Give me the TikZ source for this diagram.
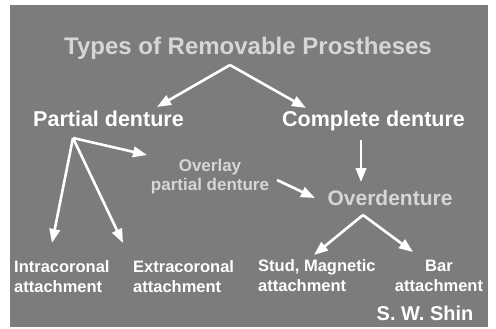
\documentclass[tikz,border=0pt]{standalone}
\usepackage{fontspec}
\setmainfont{Liberation Sans}
\usetikzlibrary{arrows.meta,calc}
\definecolor{slidebg}{HTML}{7C7C7C}
\definecolor{dimtxt}{HTML}{D6D6D6}
\newcommand{\fs}[2]{\bfseries\fontsize{#1}{#2}\selectfont}
\tikzset{
  lbl/.style={inner sep=0pt,text=white},
  dimlbl/.style={lbl,text=dimtxt},
  arr/.style={draw=white,line width=2.6pt,-{Triangle[length=14pt,width=10.5pt]}}
}

\begin{document}
\begin{tikzpicture}[x=1pt,y=-1pt]
  \useasboundingbox (0,0) rectangle (496,329);
  \fill[slidebg] (10,5) rectangle (488,327);
  % labels
  \node[dimlbl,anchor=base,font=\fs{24}{28}] (title) at (248,55) {Types of Removable Prostheses};
  \node[lbl,anchor=base,font=\fs{21.5}{24}] (partial) at (108.5,127) {Partial denture};
  \node[lbl,anchor=base,font=\fs{21.5}{24}] (complete) at (373.5,127) {Complete denture};
  \node[dimlbl,align=center,font=\fs{17}{19}] (overlay) at (210,177) {Overlay\\partial denture};
  \node[dimlbl,anchor=base,font=\fs{21}{24}] (overden) at (390,205) {Overdenture};
  \node[lbl,anchor=west,align=left,font=\fs{16.5}{20}] (intra) at (14,277) {Intracoronal\\attachment};
  \node[lbl,anchor=west,align=left,font=\fs{16.5}{20}] (extra) at (133,277) {Extracoronal\\attachment};
  \node[lbl,anchor=west,align=left,font=\fs{16.5}{20}] (stud) at (258,276) {Stud, Magnetic\\attachment};
  \node[lbl,align=center,font=\fs{16.5}{20}] (bar) at (439,276) {Bar\\attachment};
  \node[lbl,anchor=base,font=\fs{20}{24}] (author) at (425,320) {S. W.\ Shin};
  % arrows
  \coordinate (tsplit) at ($(title.base)+(-18,10)$);
  \draw[arr] (tsplit) -- ($(partial.base)+(48.5,-20)$);
  \draw[arr] (tsplit) -- ($(complete.base)+(-67.5,-19)$);
  \coordinate (psplit) at ($(partial.base)+(-35.5,11)$);
  \draw[arr] (psplit) -- ($(overlay.center)+(-63,-22)$);
  \draw[arr] (psplit) -- ($(intra.west)+(38,-34)$);
  \draw[arr] (psplit) -- ($(extra.west)+(-10,-34)$);
  \draw[arr] ($(overlay.center)+(67,3)$) -- ($(overden.base)+(-75,-7)$);
  \draw[arr] ($(complete.base)+(-12.5,13)$) -- ($(overden.base)+(-29,-23)$);
  \coordinate (osplit) at ($(overden.base)+(-27,10)$);
  \draw[arr] (osplit) -- ($(stud.west)+(56,-21)$);
  \draw[arr] (osplit) -- ($(bar.center)+(-26,-24)$);
\end{tikzpicture}
\end{document}
